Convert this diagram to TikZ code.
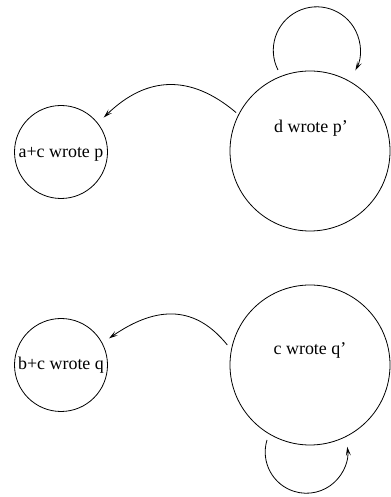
\documentclass[tikz,border=0pt]{standalone}
\usepackage{fontspec}
\setmainfont{Liberation Serif}
\usetikzlibrary{arrows.meta,calc}
\begin{document}
\begin{tikzpicture}[x=1bp,y=1bp,
  state/.style={draw,circle,line width=0.8bp,inner sep=0pt},
  small/.style={state,minimum size=93bp},
  big/.style={state,minimum size=160bp},
  lbl/.style={font=\fontsize{18}{20}\selectfont,inner sep=0pt},
  arr/.style={line width=0.8bp,-{Stealth[length=9bp,width=5bp,inset=4bp]}}]
\useasboundingbox (0,0) rectangle (390,497);
\node[small] (a) at (61,345) {};
\node[lbl] (at) at (61,343) {a+c wrote p};
\node[big] (d) at (310,346) {};
\node[lbl] (dt) at (311,369) {d wrote p'};
\node[small] (b) at (61,132) {};
\node[lbl] (bt) at (61,132) {b+c wrote q};
\node[big] (c) at (310,132) {};
\node[lbl] (ct) at (310,147) {c wrote q'};
% connectors
\draw[arr,shorten <=3bp,shorten >=8bp] (d.153) .. controls (190.5,423) and (146.7,421.3) .. (a.38);
\draw[arr,shorten <=6bp,shorten >=8bp] (c.169) .. controls (196.5,190.3) and (158.7,193) .. (b.28);
% self loops
\coordinate (dl) at ($(d.center)+(-32,81)$);
\coordinate (cl) at ($(c.center)+(-43,-75)$);
\draw[arr] (dl) arc[start angle=206.9,end angle=-27.5,radius=43.5];
\draw[arr] (cl) arc[start angle=163,end angle=367.3,radius=41.2];
\end{tikzpicture}
\end{document}
